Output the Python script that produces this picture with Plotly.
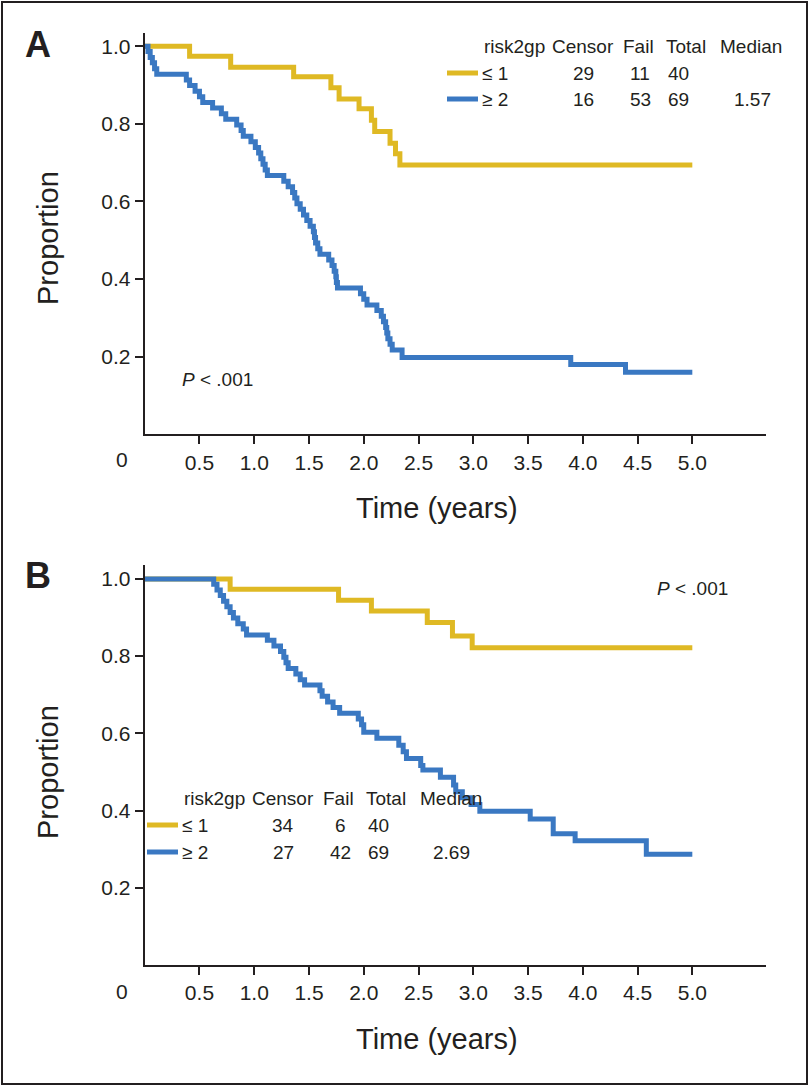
import plotly.graph_objects as go

# ---------------- data ----------------
# Panel A
a_low_t = [0.00, 0.41, 0.785, 1.36, 1.70, 1.775, 1.957, 2.07, 2.10, 2.24, 2.29, 2.33, 5.00]
a_low_s = [1.000, 0.974, 0.946, 0.921, 0.893, 0.864, 0.839, 0.809, 0.780, 0.750, 0.723, 0.694, 0.694]

a_high_t = [0.00, 0.03, 0.05, 0.07, 0.09, 0.11, 0.38, 0.41, 0.46, 0.50, 0.53, 0.62, 0.70, 0.74,
            0.84, 0.88, 0.90, 0.97, 1.01, 1.04, 1.06, 1.08, 1.10, 1.12, 1.27, 1.31, 1.35, 1.37,
            1.39, 1.42, 1.45, 1.48, 1.51, 1.54, 1.55, 1.56, 1.58, 1.60, 1.68, 1.71, 1.73, 1.745,
            1.75, 1.76, 1.97, 2.00, 2.03, 2.12, 2.16, 2.18, 2.20, 2.21, 2.22, 2.24, 2.26, 2.35,
            3.89, 4.39, 5.00]
a_high_s = [1.000, 0.986, 0.971, 0.957, 0.942, 0.928, 0.913, 0.899, 0.884, 0.870, 0.855, 0.841, 0.826, 0.812,
            0.797, 0.783, 0.768, 0.754, 0.739, 0.725, 0.710, 0.696, 0.681, 0.667, 0.652, 0.638, 0.623, 0.609,
            0.594, 0.580, 0.565, 0.551, 0.536, 0.522, 0.507, 0.493, 0.478, 0.464, 0.449, 0.435, 0.420, 0.406,
            0.391, 0.377, 0.362, 0.348, 0.333, 0.319, 0.304, 0.290, 0.275, 0.261, 0.246, 0.232, 0.217, 0.198,
            0.180, 0.160, 0.160]

# Panel B
b_low_t = [0.00, 0.78, 1.77, 2.07, 2.58, 2.81, 2.99, 5.00]
b_low_s = [1.000, 0.973, 0.945, 0.917, 0.887, 0.852, 0.822, 0.822]

b_high_t = [0.00, 0.63, 0.66, 0.69, 0.72, 0.75, 0.78, 0.81, 0.85, 0.90, 0.93, 1.12, 1.18, 1.24,
            1.27, 1.29, 1.31, 1.38, 1.42, 1.46, 1.60, 1.62, 1.67, 1.72, 1.78, 1.95, 1.98, 2.00,
            2.12, 2.32, 2.36, 2.39, 2.52, 2.54, 2.70, 2.82, 2.84, 2.90, 2.98, 3.06, 3.52, 3.73,
            3.93, 4.58, 5.00]
b_high_s = [1.000, 0.986, 0.971, 0.957, 0.942, 0.928, 0.913, 0.899, 0.884, 0.870, 0.855, 0.841, 0.826, 0.812,
            0.797, 0.783, 0.768, 0.754, 0.739, 0.725, 0.710, 0.696, 0.681, 0.667, 0.652, 0.637, 0.622, 0.603,
            0.587, 0.569, 0.552, 0.535, 0.517, 0.505, 0.486, 0.466, 0.449, 0.433, 0.416, 0.398, 0.378, 0.340,
            0.322, 0.287, 0.287]

x_ticks = [0.5, 1.0, 1.5, 2.0, 2.5, 3.0, 3.5, 4.0, 4.5, 5.0]
x_tick_labels = ["0.5", "1.0", "1.5", "2.0", "2.5", "3.0", "3.5", "4.0", "4.5", "5.0"]
y_ticks = [0.2, 0.4, 0.6, 0.8, 1.0]
y_tick_labels = ["0.2", "0.4", "0.6", "0.8", "1.0"]

legend_header = ["risk2gp", "Censor", "Fail", "Total", "Median"]
a_rows = [["≤ 1", "29", "11", "40", ""], ["≥ 2", "16", "53", "69", "1.57"]]
b_rows = [["≤ 1", "34", "6", "40", ""], ["≥ 2", "27", "42", "69", "2.69"]]

# ---------------- style ----------------
W, H = 809, 1085
YELLOW = "#DFB924"
BLUE = "#3A78C2"
INK = "#231f20"
FONT = "Liberation Sans, Arial, Helvetica, sans-serif"
TITLE_FONT = "Liberation Sans, Arial, Helvetica, sans-serif"


def px(x):
    return x / W


def py(y):
    return 1 - y / H


fig = go.Figure()

for t, s, col, xa, ya in [
    (a_low_t, a_low_s, YELLOW, "x", "y"),
    (a_high_t, a_high_s, BLUE, "x", "y"),
    (b_low_t, b_low_s, YELLOW, "x2", "y2"),
    (b_high_t, b_high_s, BLUE, "x2", "y2"),
]:
    fig.add_trace(go.Scatter(x=t, y=s, mode="lines", line=dict(color=col, width=5, shape="hv"),
                             xaxis=xa, yaxis=ya, showlegend=False, hoverinfo="skip"))

x_dom = [px(144.7), px(765.7)]
xa_common = dict(range=[0, 5.67], domain=x_dom, showline=True, linewidth=2, linecolor=INK,
                 ticks="outside", ticklen=8, tickwidth=1.5, tickcolor=INK,
                 tickvals=x_ticks, ticktext=x_tick_labels, showgrid=False, zeroline=False,
                 tickfont=dict(family=FONT, size=21, color=INK), fixedrange=True)
ya_common = dict(showline=True, linewidth=2, linecolor=INK,
                 ticks="outside", ticklen=8, tickwidth=1.5, tickcolor=INK,
                 tickvals=y_ticks, ticktext=y_tick_labels, showgrid=False, zeroline=False,
                 tickfont=dict(family=FONT, size=21, color=INK), fixedrange=True)

fig.update_layout(
    width=W, height=H,
    margin=dict(l=0, r=0, t=0, b=0),
    paper_bgcolor="white", plot_bgcolor="white",
    xaxis=dict(anchor="y", **xa_common),
    yaxis=dict(anchor="x", range=[0, 1.035], domain=[py(434.3), py(32.6)], **ya_common),
    xaxis2=dict(anchor="y2", **xa_common),
    yaxis2=dict(anchor="x2", range=[0, 1.036], domain=[py(965), py(565)], **ya_common),
)

ann = []
shapes = []


def text(x, y, s, size=19, family=FONT, xanchor="center"):
    ann.append(dict(x=px(x), y=py(y), xref="paper", yref="paper", text=s, showarrow=False,
                    font=dict(family=family, size=size, color=INK), xanchor=xanchor,
                    yanchor="middle"))


# panel A/B decorations
for dy, letter in [(0, "A"), (531, "B")]:
    text(38, 44 + dy, "<b>%s</b>" % letter, size=36)
    text(121.7, 460 + dy, "0", size=21)
    text(437, 508 + dy, "Time (years)", size=29, family=TITLE_FONT)

for yc in [238, 772]:
    ann.append(dict(x=px(48), y=py(yc), xref="paper", yref="paper", text="Proportion", showarrow=False,
                    textangle=-90, xanchor="center", yanchor="middle",
                    font=dict(family=TITLE_FONT, size=29, color=INK)))

text(218, 379, "<i>P</i> < .001")
text(692, 588, "<i>P</i> < .001")

# legends
col_x = [514, 583, 638, 686, 751]
row_x = [None, 583, 640, 678, 752]


def legend(dx, y0, rows, step):
    for i, h in enumerate(legend_header):
        text(col_x[i] + dx, y0, h)
    for r, (row, col) in enumerate(zip(rows, [YELLOW, BLUE])):
        yy = y0 + step * (r + 1)
        shapes.append(dict(type="line", xref="paper", yref="paper", x0=px(447 + dx), x1=px(478 + dx),
                           y0=py(yy), y1=py(yy), line=dict(color=col, width=5)))
        text(480 + dx, yy, row[0], xanchor="left")
        for c in range(1, 5):
            if row[c]:
                text(row_x[c] + dx, yy, row[c])


legend(0, 47, a_rows, 26)
legend(-300, 798, b_rows, 27)

# outer frame
shapes.append(dict(type="rect", xref="paper", yref="paper", x0=px(2), x1=px(807), y0=py(1084), y1=py(2),
                   line=dict(color=INK, width=2)))

fig.update_layout(annotations=ann, shapes=shapes)
fig.write_html("out.html", config={"displayModeBar": False},
               post_script="document.body.style.margin='0';")
